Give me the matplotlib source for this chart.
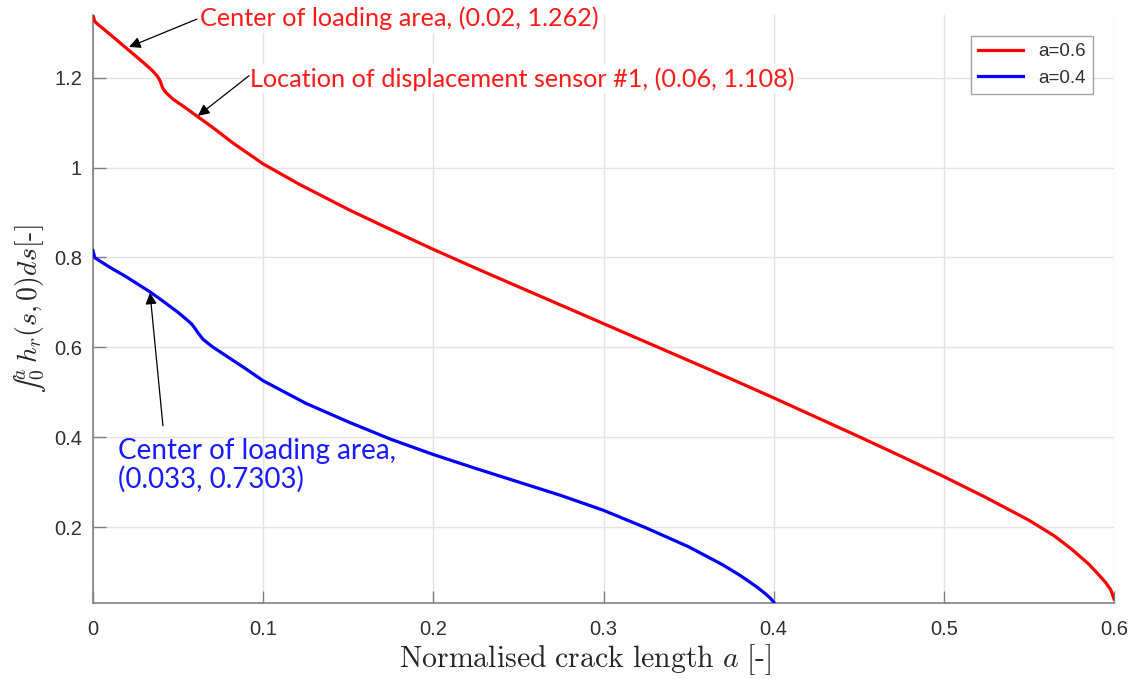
import matplotlib
matplotlib.use("Agg")
import matplotlib.pyplot as plt

# ---------------- data ----------------
x_a06 = [0, 0.001, 0.002, 0.01, 0.02, 0.03, 0.035, 0.038, 0.0395, 0.041, 0.043, 0.047,
         0.055, 0.0615, 0.07, 0.0824, 0.1, 0.1216, 0.151, 0.175, 0.2, 0.225, 0.25,
         0.275, 0.3, 0.325, 0.35, 0.375, 0.4, 0.425, 0.45, 0.475, 0.5, 0.525, 0.55,
         0.565, 0.575, 0.585, 0.59, 0.595, 0.598, 0.6]
y_a06 = [1.338, 1.325, 1.321, 1.296, 1.264, 1.232, 1.215, 1.202, 1.192, 1.176, 1.166, 1.152,
         1.131, 1.113, 1.090, 1.054, 1.008, 0.962, 0.905, 0.862, 0.818, 0.776, 0.735,
         0.694, 0.653, 0.612, 0.571, 0.530, 0.488, 0.445, 0.402, 0.358, 0.313, 0.266, 0.216,
         0.181, 0.152, 0.119, 0.099, 0.078, 0.062, 0.041]

x_a04 = [0, 0.001, 0.002, 0.01, 0.02, 0.0333, 0.04, 0.05, 0.055, 0.058, 0.0598, 0.0618,
         0.0647, 0.07, 0.0784, 0.09, 0.1, 0.125, 0.151, 0.175, 0.2, 0.225, 0.25, 0.275,
         0.3, 0.325, 0.35, 0.36, 0.37, 0.38, 0.39, 0.395, 0.398, 0.4]
y_a04 = [0.815, 0.800, 0.797, 0.778, 0.756, 0.724, 0.706, 0.678, 0.662, 0.652, 0.643, 0.632,
         0.618, 0.602, 0.581, 0.552, 0.526, 0.476, 0.433, 0.396, 0.362, 0.331, 0.301, 0.271,
         0.238, 0.199, 0.157, 0.137, 0.117, 0.094, 0.068, 0.053, 0.043, 0.034]

series_labels = ["a=0.6", "a=0.4"]
x_ticks = [0, 0.1, 0.2, 0.3, 0.4, 0.5, 0.6]
x_ticklabels = ["0", "0.1", "0.2", "0.3", "0.4", "0.5", "0.6"]
y_ticks = [0.2, 0.4, 0.6, 0.8, 1.0, 1.2]
y_ticklabels = ["0.2", "0.4", "0.6", "0.8", "1", "1.2"]

ann1_text = "Center of loading area, (0.02, 1.262)"
ann1_xy = (0.0212, 1.268)
ann2_text = "Location of displacement sensor #1, (0.06, 1.108)"
ann2_xy = (0.0617, 1.115)
ann3_text = "Center of loading area,\n(0.033, 0.7303)"
ann3_xy = (0.0335, 0.7216)

# ---------------- figure ----------------
plt.rcParams['mathtext.fontset'] = 'cm'
W, H = 1135, 679
fig = plt.figure(figsize=(W / 100, H / 100), dpi=100)
ax = fig.add_axes([93 / W, 1 - 603 / H, (1114 - 93) / W, (603 - 15) / H])

ax.plot(x_a06, y_a06, color='#ff0000', lw=2.3, label=series_labels[0], zorder=3)
ax.plot(x_a04, y_a04, color='#0000ff', lw=2.3, label=series_labels[1], zorder=3)

ax.set_xlim(0, 0.6)
ax.set_ylim(0.032, 1.339)
ax.set_xticks(x_ticks)
ax.set_xticklabels(x_ticklabels)
ax.set_yticks(y_ticks)
ax.set_yticklabels(y_ticklabels)

tick_col = '#303030'
for lab in ax.get_xticklabels() + ax.get_yticklabels():
    lab.set_family('Liberation Sans')
    lab.set_fontsize(14.5)
    lab.set_color(tick_col)
ax.tick_params(direction='in', length=9, width=1, color='#808080', pad=12)
ax.tick_params(axis='y', pad=8)
ax.grid(True, color='#e3e3e3', lw=1)
ax.set_axisbelow(True)
for s in ['top', 'right']:
    ax.spines[s].set_visible(False)
for s in ['left', 'bottom']:
    ax.spines[s].set_color('#808080')
    ax.spines[s].set_linewidth(1.2)

ax.set_xlabel(r"$\mathrm{Normalised\ crack\ length\ }a\mathrm{\ [\text{-}]}$", fontsize=21.5,
              color='#262626')
ax.xaxis.set_label_coords(0.482, -0.066)
ylab = ax.set_ylabel("$\u222b_0^a\\, h_r(s,0)ds\\mathrm{[\\text{-}]}$", fontsize=20, color='#262626')
ax.yaxis.set_label_coords(-0.044, 0.5)

leg = ax.legend(loc='upper right', handlelength=2.4, frameon=True,
                fancybox=False, edgecolor='#8c8c8c', borderaxespad=1.1,
                prop={'family': 'Liberation Sans', 'size': 13.5})
leg.get_frame().set_linewidth(1.0)
for t in leg.get_texts():
    t.set_color(tick_col)

arrow_kw = dict(arrowstyle='-|>', color='black', lw=0.9, mutation_scale=17, shrinkA=0, shrinkB=0)
font_ann = ['Lato', 'DejaVu Sans']

# annotation 1
ax.annotate('', xy=ann1_xy, xytext=(0.0611, 1.330), xycoords='data', arrowprops=arrow_kw, zorder=5)
ax.text(0.0629, 1.331, ann1_text, color='#ff1a1a', fontsize=18.2, family=font_ann,
        va='center', ha='left', zorder=2.5,
        bbox=dict(facecolor='white', edgecolor='none', pad=2))
# annotation 2
ax.annotate('', xy=ann2_xy, xytext=(0.0917, 1.204), xycoords='data', arrowprops=arrow_kw, zorder=5)
ax.text(0.0920, 1.197, ann2_text, color='#ff1a1a', fontsize=18.2, family=font_ann,
        va='center', ha='left', zorder=2.5,
        bbox=dict(facecolor='white', edgecolor='none', pad=2))
# annotation 3
ax.annotate('', xy=ann3_xy, xytext=(0.0411, 0.426), xycoords='data', arrowprops=arrow_kw, zorder=5)
ax.text(0.0147, 0.338, ann3_text, color='#1a1aff', fontsize=20, family=font_ann,
        va='center', ha='left', zorder=2.5, linespacing=1.1)

try:
    fig.savefig('out.png', dpi=100)
except Exception:
    ylab.set_text(r"$\int_0^a h_r(s,0)ds\mathrm{[\text{-}]}$")
    ylab.set_fontsize(17.5)
    fig.savefig('out.png', dpi=100)
